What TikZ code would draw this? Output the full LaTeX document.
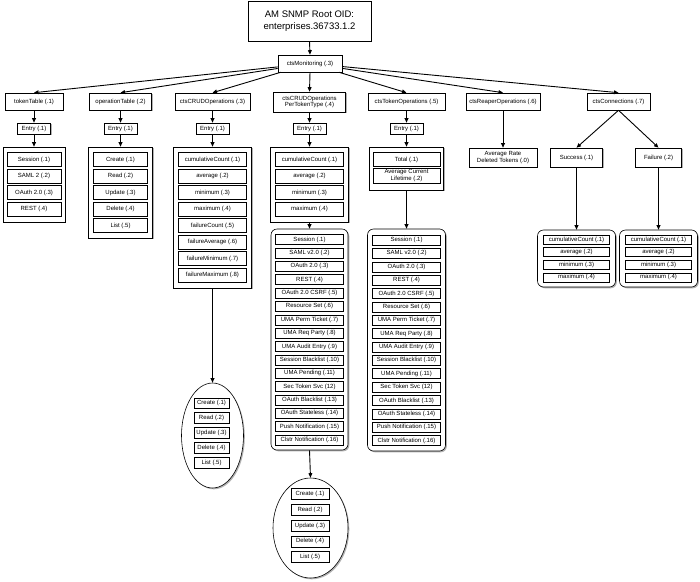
\documentclass[tikz,border=0pt]{standalone}
\usepackage{fontspec}
\setmainfont{Liberation Sans}
\usetikzlibrary{arrows.meta,shadows,shapes.geometric}
\begin{document}
\begin{tikzpicture}[x=1pt,y=-1pt,
  every node/.style={font=\fontsize{6}{6.6}\selectfont, inner sep=0pt, align=center},
  box/.style={draw, line width=0.6pt, fill=white,
    drop shadow={shadow xshift=1.3pt, shadow yshift=-1.3pt, fill=gray!60, opacity=1}},
  item/.style={draw, line width=0.45pt, fill=white,
    drop shadow={shadow xshift=0.7pt, shadow yshift=-0.7pt, fill=gray!50, opacity=1}},
  rbox/.style={box, rounded corners=6pt},
  oval/.style={box, ellipse},
  arr/.style={-{Triangle[length=4.5pt,width=3.8pt]}, line width=0.9pt}
]
\fill[white] (0,0) rectangle (700,581);
\useasboundingbox (0,0) rectangle (700,581);

% root and monitoring
\node[box, minimum width=123, minimum height=40, font=\fontsize{9.5}{12.5}\selectfont] (root) at (309.5,21) {AM SNMP Root OID:\\enterprises.36733.1.2};
\node[box, minimum width=64, minimum height=17] (mon) at (310,63.5) {ctsMonitoring (.3)};

% row 1
\node[box, minimum width=58, minimum height=17] (tt) at (34,101.5) {tokenTable (.1)};
\node[box, minimum width=62, minimum height=17] (ot) at (120.5,101.5) {operationTable (.2)};
\node[box, minimum width=75, minimum height=17] (crud) at (212.5,101.5) {ctsCRUDOperations (.3)};
\node[box, minimum width=72, minimum height=20] (pt) at (309.5,102) {ctsCRUDOperations\\PerTokenType (.4)};
\node[box, minimum width=77, minimum height=17] (tok) at (406.5,101.5) {ctsTokenOperations (.5)};
\node[box, minimum width=74, minimum height=17] (reap) at (503,101.5) {ctsReaperOperations (.6)};
\node[box, minimum width=63, minimum height=17] (conn) at (618.5,101.5) {ctsConnections (.7)};

% entries
\node[box, minimum width=33, minimum height=11] (e1) at (34,128.5) {Entry (.1)};
\node[box, minimum width=33, minimum height=11] (e2) at (120.5,128.5) {Entry (.1)};
\node[box, minimum width=33, minimum height=11] (e3) at (212.5,128.5) {Entry (.1)};
\node[box, minimum width=33, minimum height=11] (e4) at (309.5,128.5) {Entry (.1)};
\node[box, minimum width=33, minimum height=11] (e5) at (406.5,128.5) {Entry (.1)};

% containers
\node[box, minimum width=62, minimum height=75] (c1) at (34,184.5) {};
\foreach \t [count=\i] in {Session (.1), SAML 2 (.2), OAuth 2.0 (.3), REST (.4)}
  \node[item, minimum width=54, minimum height=14] (c1-\i) at (34,{159.5+16.5*(\i-1)}) {\t};

\node[box, minimum width=64, minimum height=91] (c2) at (120.5,192.5) {};
\foreach \t [count=\i] in {Create (.1), Read (.2), Update (.3), Delete (.4), List (.5)}
  \node[item, minimum width=54, minimum height=14] (c2-\i) at (120.5,{159.5+16.5*(\i-1)}) {\t};

\node[box, minimum width=78, minimum height=141] (c3) at (212.5,217.5) {};
\foreach \t [count=\i] in {cumulativeCount (.1), average (.2), minimum (.3), maximum (.4), failureCount (.5), failureAverage (.6), failureMinimum (.7), failureMaximum (.8)}
  \node[item, minimum width=68, minimum height=14] (c3-\i) at (212.5,{159.5+16.5*(\i-1)}) {\t};

\node[oval, minimum width=62, minimum height=105] (o1) at (212.5,435.5) {};
\foreach \t [count=\i] in {Create (.1), Read (.2), Update (.3), Delete (.4), List (.5)}
  \node[item, minimum width=35, minimum height=10.5] (o1-\i) at (211.5,{403+14.9*(\i-1)}) {\t};

\node[box, minimum width=78, minimum height=75] (c4) at (309.5,184.5) {};
\foreach \t [count=\i] in {cumulativeCount (.1), average (.2), minimum (.3), maximum (.4)}
  \node[item, minimum width=68, minimum height=14] (c4-\i) at (309.5,{159.5+16.5*(\i-1)}) {\t};

\node[rbox, minimum width=77, minimum height=221] (c5) at (309.5,339.5) {};
\foreach \t [count=\i] in {Session (.1), SAML v2.0 (.2), OAuth 2.0 (.3), REST (.4), OAuth 2.0 CSRF (.5), Resource Set (.6), UMA Perm Ticket (.7), UMA Req Party (.8), UMA Audit Entry (.9), Session Blacklist (.10), UMA Pending (.11), Sec Token Svc (12), OAuth Blacklist (.13), OAuth Stateless (.14), Push Notification (.15), Clstr Notification (.16)}
  \node[item, minimum width=68, minimum height=10] (c5-\i) at (309.5,{239.5+13.37*(\i-1)}) {\t};

\node[oval, minimum width=75, minimum height=100] (o2) at (310.5,528) {};
\foreach \t [count=\i] in {Create (.1), Read (.2), Update (.3), Delete (.4), List (.5)}
  \node[item, minimum width=38, minimum height=11] (o2-\i) at (310,{494+15.8*(\i-1)}) {\t};

\node[box, minimum width=74, minimum height=43] (c6) at (406.5,168.5) {};
\node[item, minimum width=67, minimum height=14] (c6-1) at (406.5,159.5) {Total (.1)};
\node[item, minimum width=67, minimum height=15] (c6-2) at (406.5,175.8) {Average Current\\Lifetime (.2)};

\node[rbox, minimum width=78, minimum height=222] (c7) at (406.5,340) {};
\foreach \t [count=\i] in {Session (.1), SAML v2.0 (.2), OAuth 2.0 (.3), REST (.4), OAuth 2.0 CSRF (.5), Resource Set (.6), UMA Perm Ticket (.7), UMA Req Party (.8), UMA Audit Entry (.9), Session Blacklist (.10), UMA Pending (.11), Sec Token Svc (12), OAuth Blacklist (.13), OAuth Stateless (.14), Push Notification (.15), Clstr Notification (.16)}
  \node[item, minimum width=68, minimum height=10] (c7-\i) at (406.5,{240+13.37*(\i-1)}) {\t};

\node[box, minimum width=68, minimum height=19] (avg) at (503,157.5) {Average Rate\\Deleted Tokens (.0)};
\node[box, minimum width=52, minimum height=19] (succ) at (576.5,157.5) {Success (.1)};
\node[box, minimum width=46, minimum height=19] (fail) at (658.5,157.5) {Failure (.2)};

\node[rbox, minimum width=78, minimum height=57] (c8) at (576.5,258.5) {};
\foreach \t [count=\i] in {cumulativeCount (.1), average (.2), minimum (.3), maximum (.4)}
  \node[item, minimum width=66, minimum height=9] (c8-\i) at (576.5,{239.5+12.6*(\i-1)}) {\t};
\node[rbox, minimum width=78, minimum height=57] (c9) at (658.5,258.5) {};
\foreach \t [count=\i] in {cumulativeCount (.1), average (.2), minimum (.3), maximum (.4)}
  \node[item, minimum width=66, minimum height=9] (c9-\i) at (658.5,{239.5+12.6*(\i-1)}) {\t};

% connectors
\draw[arr] (root.south) -- (mon.north);
\draw[arr] (mon) -- (tt.north);
\draw[arr] (mon) -- (ot.north);
\draw[arr] (mon) -- (crud.north);
\draw[arr] (mon.south) -- (pt.north);
\draw[arr] (mon) -- (tok.north);
\draw[arr] (mon) -- (reap.north);
\draw[arr] (mon) -- (conn.north);

\draw[arr] (tt) -- (e1);  \draw[arr] (e1) -- (c1);
\draw[arr] (ot) -- (e2);  \draw[arr] (e2) -- (c2);
\draw[arr] (crud) -- (e3);  \draw[arr] (e3) -- (c3);
\draw[arr] (pt) -- (e4);  \draw[arr] (e4) -- (c4);
\draw[arr] (tok) -- (e5);  \draw[arr] (e5) -- (c6);
\draw[arr] (c3) -- (o1);
\draw[arr] (c4) -- (c5);
\draw[arr] (c5.south) -- (o2.north);
\draw[arr] (c6) -- (c7);
\draw[arr] (reap) -- (avg);
\draw[arr] (conn.south) -- (succ.north);
\draw[arr] (conn.south) -- (fail.north);
\draw[arr] (succ) -- (c8);
\draw[arr] (fail) -- (c9);
\end{tikzpicture}
\end{document}
